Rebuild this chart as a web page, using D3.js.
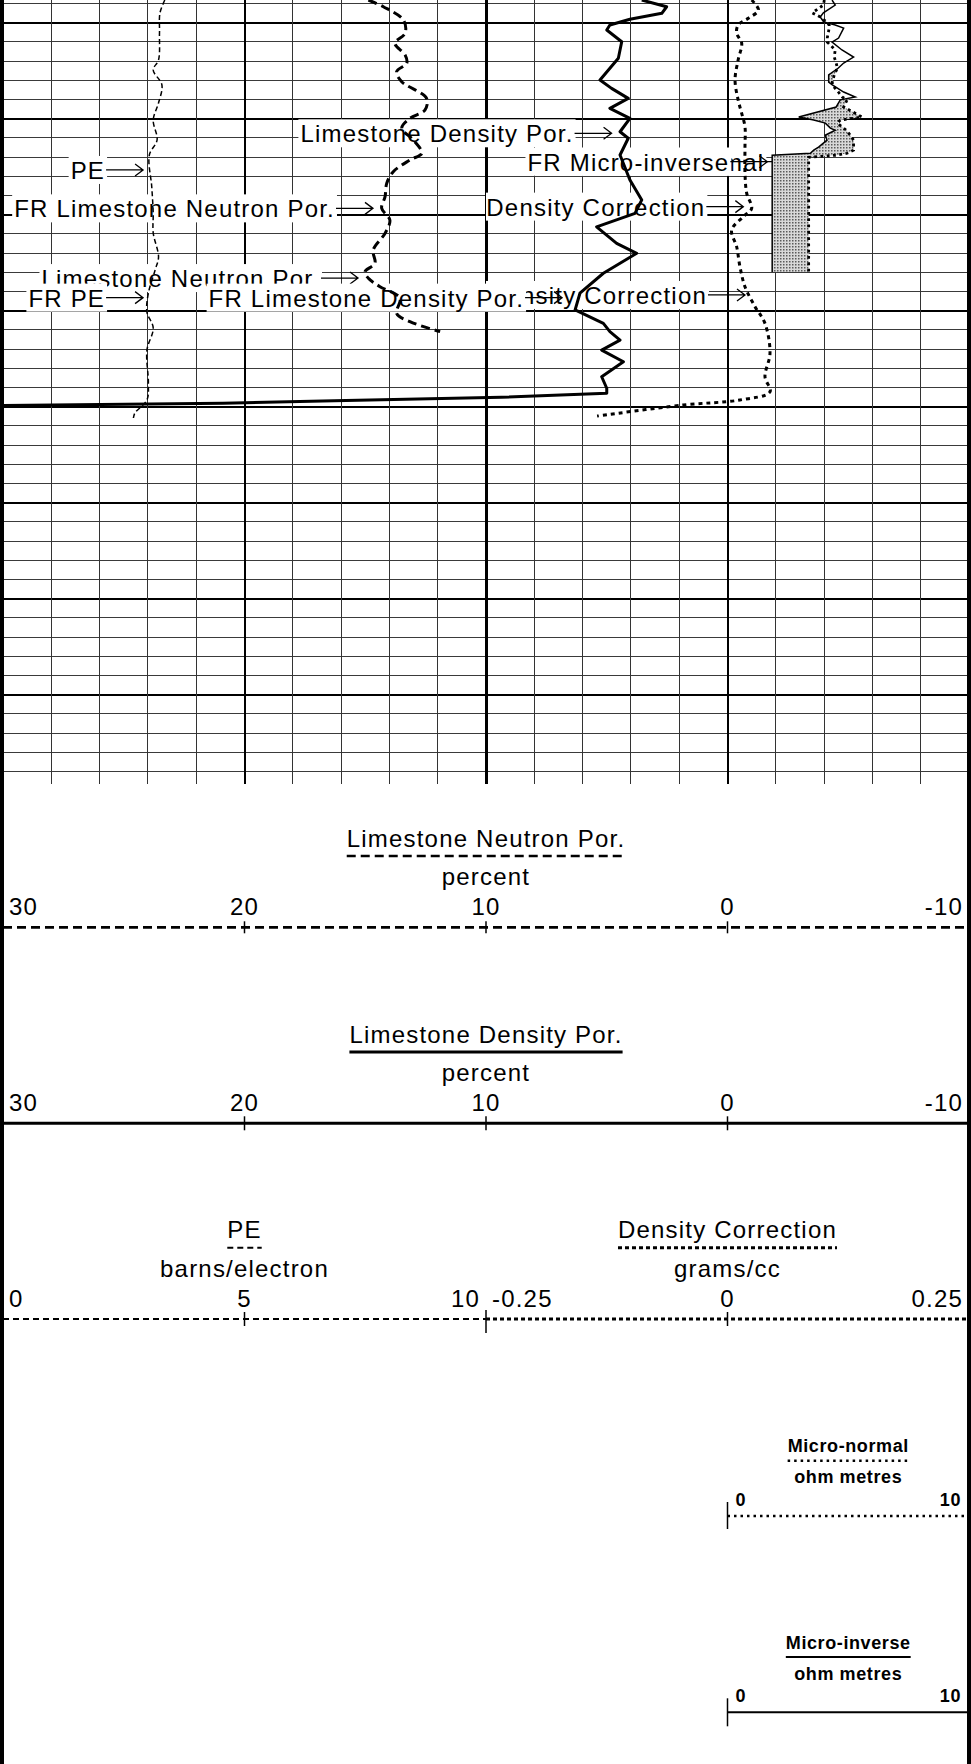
<!DOCTYPE html>
<html>
<head>
<meta charset="utf-8">
<title>Porosity log</title>
<script src="https://d3js.org/d3.v7.min.js"></script>
<style>
  body { margin: 0; background: #fff; }
  svg { display: block; font-family: "Liberation Sans", Arial, sans-serif; }
  .lbl { font-size: 24px; letter-spacing: 1.2px; }
  .hdr { font-size: 24px; letter-spacing: 1.2px; }
  .hdrb { font-size: 18px; font-weight: bold; letter-spacing: 0.6px; }
</style>
</head>
<body>
<div id="log"></div>
<script>
// ---- curves (depth in metres, value in track units) ----
var peDepth = [1223.82, 1224.49, 1225.54, 1226.94, 1227.46, 1228.24, 1229.18, 1230.07, 1231.11, 1231.89, 1233.56, 1234.91,
               1235.95, 1237.20, 1237.88, 1239.08, 1240.07, 1240.90, 1242.05, 1243.77, 1244.65, 1245.33, 1245.59];
var peValue = [3.35, 3.25, 3.24, 3.22, 3.11, 3.29, 3.22, 3.11, 3.19, 3.03, 3.08, 3.11,
               3.11, 3.22, 3.15, 3.01, 2.98, 3.11, 2.98, 3.01, 2.98, 2.73, 2.70];

var neutronDepth = [1223.82, 1224.17, 1224.86, 1225.55, 1226.07, 1226.68, 1227.11, 1227.55, 1228.07, 1228.94, 1229.55,
                    1229.98, 1230.50, 1231.11, 1231.80, 1232.15, 1232.76, 1233.36, 1234.06, 1234.67, 1235.28, 1235.97,
                    1236.84, 1237.53, 1237.97, 1238.31, 1238.75, 1239.35, 1240.14, 1240.57, 1241.09];
var neutronValue = [14.87, 14.25, 13.42, 13.35, 13.77, 13.35, 13.28, 13.70, 13.49, 12.46, 12.53,
                    13.15, 13.49, 13.01, 12.66, 13.15, 13.84, 14.11, 14.18, 14.32, 13.98, 14.18,
                    14.67, 14.60, 15.01, 14.87, 14.39, 13.56, 13.70, 13.15, 11.90];

var densityDepth = [1223.82, 1224.17, 1224.51, 1224.82, 1225.12, 1225.38, 1225.99, 1226.85, 1227.98, 1228.42, 1228.94,
                    1229.46, 1229.98, 1230.68, 1231.02, 1231.89, 1233.19, 1234.23, 1234.93, 1235.63, 1236.49, 1237.01,
                    1238.05, 1239.09, 1239.96, 1240.66, 1241.09, 1241.53, 1242.05, 1242.66, 1243.44, 1244.04, 1244.30,
                    1244.51, 1244.69, 1244.82, 1244.94];
var densityValue = [3.55, 2.52, 2.72, 4.04, 4.87, 5.00, 4.38, 4.52, 5.28, 4.80, 4.11,
                    4.87, 4.04, 4.45, 4.11, 4.45, 4.04, 3.55, 3.83, 5.42, 4.59, 3.76,
                    5.14, 6.11, 6.31, 5.14, 4.87, 4.45, 5.21, 4.31, 5.21, 5.00, 5.00,
                    9.36, 16.29, 20.89, 30.0];

var corrDepth = [1223.82, 1224.34, 1224.77, 1225.12, 1225.55, 1226.07, 1226.94, 1227.98, 1229.02, 1229.72, 1230.42,
                 1231.46, 1232.84, 1233.89, 1234.67, 1235.10, 1235.80, 1236.67, 1237.71, 1238.75, 1239.79, 1240.66,
                 1242.22, 1243.44, 1244.22, 1244.65, 1244.91, 1245.49];
var corrValue = [0.025, 0.032, 0.0215, 0.011, 0.0095, 0.0147, 0.011, 0.0078, 0.011, 0.0147, 0.0181,
                 0.0181, 0.0181, 0.0199, 0.025, 0.0164, 0.0043, 0.0095, 0.0129, 0.0181, 0.0285, 0.0388,
                 0.044, 0.0388, 0.044, 0.0129, -0.046, -0.135];

// micro-log curves share one depth list
var microDepth = [1223.82, 1224.08, 1224.49, 1224.70, 1224.96, 1225.12, 1225.28, 1225.80, 1226.01, 1226.42, 1226.79,
                  1227.10, 1227.36, 1227.72, 1228.09, 1228.24, 1228.61, 1228.87, 1229.02, 1229.39, 1229.91, 1230.07,
                  1230.23, 1230.49, 1230.60, 1230.86, 1231.12, 1231.48, 1231.64, 1231.80, 1231.90, 1232.01, 1237.98];
var microInverse = [4.33, 4.46, 3.97, 3.84, 3.98, 4.46, 4.81, 4.60, 4.33, 4.74, 5.22,
                    4.81, 4.59, 4.19, 4.19, 4.34, 4.81, 5.29, 4.67, 4.50, 2.95, 3.57,
                    4.05, 4.26, 4.46, 4.05, 4.12, 3.77, 3.57, 3.43, 1.85, 1.85, 1.85];
var microNormal = [4.01, 3.97, 3.51, 3.84, 4.09, 4.21, 4.21, 4.13, 4.13, 4.46, 4.42,
                   4.50, 4.55, 4.42, 4.34, 4.34, 4.59, 4.75, 4.95, 4.81, 5.57, 4.67,
                   4.55, 4.81, 4.92, 5.08, 5.22, 5.22, 5.22, 4.95, 4.53, 3.36, 3.36];

// ---- curve name tags with arrows ----
var annoText = ["FR Micro-normal", "FR Micro-inverse", "FR Density Correction", "Density Correction",
                "Limestone Density Por.", "PE", "FR Limestone Neutron Por.", "Limestone Neutron Por.",
                "FR PE", "FR Limestone Density Por."];
var annoTrack = ["micro", "micro", "corr", "corr", "por", "pe", "por", "por", "pe", "por"];
var annoDepth = [1232.24, 1232.24, 1234.58, 1239.18, 1230.76, 1232.67, 1234.67, 1238.30, 1239.32, 1239.32];
var annoValue = [3.10, 1.65, 0.0164, 0.0181, 4.80, 2.90, 14.68, 15.30, 2.90, 6.85];

// ---- scale headers ----
var porTicks = [30, 20, 10, 0, -10];
var peTicks = [0, 5, 10];
var corrTicks = [-0.25, 0, 0.25];
var microTicks = [0, 10];

var width = 971, height = 1764;
var left = 3, mid = 486, right = 969;

var svg = d3.select("#log").append("svg")
    .attr("width", width)
    .attr("height", height);

var y = d3.scaleLinear().domain([1224, 1264]).range([3.5, 771.5]);
var xPor = d3.scaleLinear().domain([30, -10]).range([left, right]);
var xPE = d3.scaleLinear().domain([0, 10]).range([left, mid]);
var xCorr = d3.scaleLinear().domain([-0.25, 0.25]).range([mid, right]);
var xMicro = d3.scaleLinear().domain([0, 10]).range([xPor(0), right]);
var scales = {por: xPor, pe: xPE, corr: xCorr, micro: xMicro};

var gridBottom = y(1264);

var defs = svg.append("defs");
defs.append("clipPath").attr("id", "plotClip")
  .append("rect").attr("x", left).attr("y", 0).attr("width", right - left).attr("height", gridBottom);
defs.append("clipPath").attr("id", "rightClip")
  .append("rect").attr("x", mid).attr("y", 0).attr("width", right - mid).attr("height", gridBottom);
var pat = defs.append("pattern").attr("id", "stipple")
    .attr("width", 3).attr("height", 3).attr("patternUnits", "userSpaceOnUse");
pat.append("rect").attr("width", 3).attr("height", 3).attr("fill", "#d8d8d8");
pat.append("rect").attr("width", 1.5).attr("height", 1.5).attr("fill", "#5a5a5a");

// ---- grid ----
var grid = svg.append("g").attr("shape-rendering", "crispEdges");
grid.selectAll("line.h")
  .data(d3.range(1224, 1265))
  .join("line")
    .attr("class", "h")
    .attr("x1", left).attr("x2", right)
    .attr("y1", function(d) { return y(d); })
    .attr("y2", function(d) { return y(d); })
    .attr("stroke", function(d) { return d % 5 == 0 ? "#000" : "#3a3a3a"; })
    .attr("stroke-width", function(d) { return d % 5 == 0 ? 2 : 1; });

grid.selectAll("line.v")
  .data(d3.range(28, -9, -2))
  .join("line")
    .attr("class", "v")
    .attr("x1", function(d) { return xPor(d); })
    .attr("x2", function(d) { return xPor(d); })
    .attr("y1", 0).attr("y2", gridBottom + 12)
    .attr("stroke", function(d) { return d % 10 == 0 ? "#000" : "#333"; })
    .attr("stroke-width", function(d) { return d == 10 ? 3 : (d % 10 == 0 ? 2 : 1); });

// borders
svg.append("line").attr("x1", 2).attr("x2", 2).attr("y1", 0).attr("y2", height)
  .attr("stroke", "#000").attr("stroke-width", 4);
svg.append("line").attr("x1", right).attr("x2", right).attr("y1", 0).attr("y2", height)
  .attr("stroke", "#000").attr("stroke-width", 4);

// ---- tags ----
var tagLayer = svg.append("g");
annoText.forEach(function(t, i) {
  var sc = scales[annoTrack[i]];
  var tipX = sc(annoValue[i]);
  var tipY = y(annoDepth[i]);
  var g = tagLayer.append("g");
  if (annoTrack[i] == "micro" || annoTrack[i] == "corr") g.attr("clip-path", "url(#rightClip)");
  var box = g.append("rect");
  var txt = g.append("text")
      .attr("class", "lbl")
      .attr("x", tipX - 38)
      .attr("y", tipY + 9)
      .attr("text-anchor", "end")
      .text(t);
  var w = txt.node().getComputedTextLength();
  box.attr("x", tipX - 38 - w - 2).attr("y", tipY + 9 - 23)
     .attr("width", w + 4).attr("height", 28)
     .attr("fill", "#fff");
  g.append("path")
    .attr("d", "M" + (tipX - 37) + "," + tipY + "H" + tipX +
               "M" + (tipX - 8) + "," + (tipY - 6) + "L" + tipX + "," + tipY + "L" + (tipX - 8) + "," + (tipY + 6))
    .attr("fill", "none")
    .attr("stroke", "#000")
    .attr("stroke-width", 1.3);
});

// ---- curves ----
var curves = svg.append("g").attr("clip-path", "url(#plotClip)");

function trace(depths, values, sc, curve) {
  return d3.line()
    .x(function(d, i) { return sc(values[i]); })
    .y(function(d) { return y(d); })
    .curve(curve || d3.curveLinear)(depths);
}

var shade = d3.area()
  .y(function(d) { return y(d); })
  .x0(function(d, i) { return xMicro(microInverse[i]); })
  .x1(function(d, i) { return xMicro(Math.max(microNormal[i], microInverse[i])); });
curves.append("path").attr("d", shade(microDepth)).attr("fill", "url(#stipple)");

curves.append("path")
  .attr("d", trace(microDepth, microInverse, xMicro))
  .attr("fill", "none").attr("stroke", "#000").attr("stroke-width", 1.5);
curves.append("path")
  .attr("d", trace(microDepth, microNormal, xMicro))
  .attr("fill", "none").attr("stroke", "#000").attr("stroke-width", 2.8)
  .attr("stroke-dasharray", "2.8,3.5");

curves.append("path")
  .attr("d", trace(peDepth, peValue, xPE, d3.curveCatmullRom))
  .attr("fill", "none").attr("stroke", "#000").attr("stroke-width", 1.5)
  .attr("stroke-dasharray", "5,3");
curves.append("path")
  .attr("d", trace(neutronDepth, neutronValue, xPor, d3.curveCatmullRom))
  .attr("fill", "none").attr("stroke", "#000").attr("stroke-width", 3)
  .attr("stroke-dasharray", "9,5");
curves.append("path")
  .attr("d", trace(densityDepth, densityValue, xPor))
  .attr("fill", "none").attr("stroke", "#000").attr("stroke-width", 3)
  .attr("stroke-linejoin", "round");
curves.append("path")
  .attr("d", trace(corrDepth, corrValue, xCorr, d3.curveCatmullRom))
  .attr("fill", "none").attr("stroke", "#000").attr("stroke-width", 3)
  .attr("stroke-dasharray", "4,4");

// ---- scale headers ----
function header(o) {
  var g = svg.append("g");
  var r = o.scale.range();
  var cx = (r[0] + r[1]) / 2;
  var big = o.cls == "hdr";
  var gaps = big ? [80.6, 71.3, 42.3, 12.3] : [63.7, 55.3, 32.7, 10];
  var t = g.append("text").attr("class", o.cls)
      .attr("x", cx).attr("y", o.axisY - gaps[0]).attr("text-anchor", "middle").text(o.title);
  var w = t.node().getComputedTextLength();
  g.append("line")
    .attr("x1", cx - w / 2).attr("x2", cx + w / 2)
    .attr("y1", o.axisY - gaps[1]).attr("y2", o.axisY - gaps[1])
    .attr("stroke", "#000").attr("stroke-width", o.sw).attr("stroke-dasharray", o.dash);
  g.append("text").attr("class", o.cls)
    .attr("x", cx).attr("y", o.axisY - gaps[2]).attr("text-anchor", "middle").text(o.unit);
  var n = o.ticks.length;
  g.selectAll("text.tk")
    .data(o.ticks)
    .join("text")
      .attr("class", o.cls)
      .attr("x", function(d, i) { return o.scale(d) + (i == 0 ? o.pad : (i == n - 1 ? -o.pad : 0)); })
      .attr("y", o.axisY - gaps[3])
      .attr("text-anchor", function(d, i) { return i == 0 ? "start" : (i == n - 1 ? "end" : "middle"); })
      .text(function(d) { return d; });
  g.append("line")
    .attr("x1", r[0]).attr("x2", r[1]).attr("y1", o.axisY).attr("y2", o.axisY)
    .attr("stroke", "#000").attr("stroke-width", o.sw).attr("stroke-dasharray", o.dash);
  g.selectAll("line.tm")
    .data(o.marks)
    .join("line")
      .attr("x1", function(d) { return o.scale(d[0]); })
      .attr("x2", function(d) { return o.scale(d[0]); })
      .attr("y1", function(d) { return o.axisY - d[1]; })
      .attr("y2", function(d) { return o.axisY + d[2]; })
      .attr("stroke", "#000").attr("stroke-width", 1.5);
}

header({title: "Limestone Neutron Por.", unit: "percent", scale: xPor, ticks: porTicks, axisY: 927.3,
        cls: "hdr", pad: 6, sw: 2.7, dash: "9,5", marks: [[20, 6, 6], [10, 6, 6], [0, 6, 6]]});
header({title: "Limestone Density Por.", unit: "percent", scale: xPor, ticks: porTicks, axisY: 1123.3,
        cls: "hdr", pad: 6, sw: 3, dash: null, marks: [[20, 7, 7], [10, 7, 7], [0, 7, 7]]});
header({title: "PE", unit: "barns/electron", scale: xPE, ticks: peTicks, axisY: 1319,
        cls: "hdr", pad: 6, sw: 2, dash: "6,4", marks: [[5, 7, 7], [10, 9, 14]]});
header({title: "Density Correction", unit: "grams/cc", scale: xCorr, ticks: corrTicks, axisY: 1319,
        cls: "hdr", pad: 6, sw: 3, dash: "4,3", marks: [[0, 7, 7]]});
header({title: "Micro-normal", unit: "ohm metres", scale: xMicro, ticks: microTicks, axisY: 1516,
        cls: "hdrb", pad: 8, sw: 2.5, dash: "2.5,4", marks: [[0, 14, 13]]});
header({title: "Micro-inverse", unit: "ohm metres", scale: xMicro, ticks: microTicks, axisY: 1712.3,
        cls: "hdrb", pad: 8, sw: 2, dash: null, marks: [[0, 14, 14]]});
</script>
</body>
</html>
